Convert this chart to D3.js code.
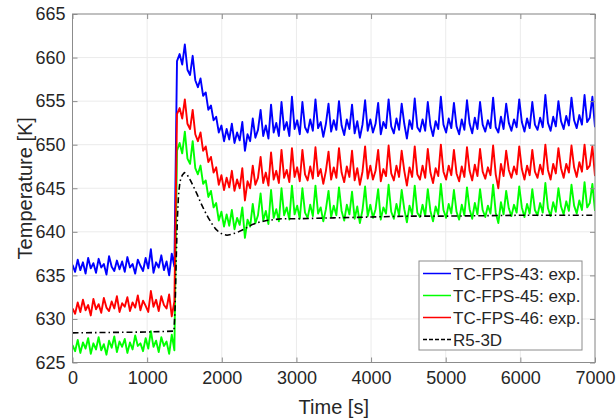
<!DOCTYPE html>
<html>
<head>
<meta charset="utf-8">
<script src="https://cdn.jsdelivr.net/npm/d3@7"></script>
<style>
body { margin: 0; background: #fff; }
text { font-family: "Liberation Sans", Arial, sans-serif; fill: #262626; }
</style>
</head>
<body>
<svg id="mainSvgArea" width="616" height="419"></svg>
<script>
// measured thermocouples, one sample every 35 s
var expTime = d3.range(0, 7001, 35);

var tc43 = [
    636.2, 635.4, 636.8, 635.6, 636.5, 635.2, 637.0, 635.8, 636.4, 635.3, 636.9, 635.9, 636.3, 635.1, 637.2, 636.0, 635.5, 636.7, 635.7, 636.6,
    635.4, 637.1, 635.9, 636.3, 635.2, 636.8, 636.1, 635.5, 637.0, 635.8, 638.0, 635.3, 636.5, 635.9, 637.3, 635.6, 636.6, 635.0, 637.5, 636.0,
    659.6, 660.4, 659.2, 661.5, 658.6, 658.0, 660.2, 657.4, 656.6, 657.6, 655.6, 656.0, 654.0, 654.5, 652.8, 653.2, 651.4, 652.2, 650.4, 651.8,
    650.6, 652.4, 650.2, 651.4, 650.5, 652.6, 649.3, 651.2, 650.4, 653.0, 650.8, 651.7, 654.0, 651.0, 652.2, 650.7, 654.6, 651.4, 652.5, 651.0,
    654.9, 651.7, 652.6, 651.0, 655.5,
    651.8, 652.8, 651.2, 654.9, 652.0, 651.4, 652.9, 651.6, 655.2, 651.9, 652.6, 650.9, 652.4, 654.7, 651.5, 652.8,
    651.7, 655.0, 652.2, 651.1, 652.9, 651.8, 654.6, 651.3, 652.7, 650.8, 652.3, 655.1, 651.6, 652.9, 651.4, 652.4,
    654.8, 651.2, 652.6, 651.9, 655.2, 652.1, 651.3, 653.0, 651.7, 654.7, 652.4, 650.7, 652.8, 651.8, 655.3, 652.0,
    651.5, 652.9, 651.6, 654.9, 652.2, 651.0, 652.7, 651.8, 655.5, 652.3, 651.4, 653.0, 651.9, 654.8, 652.1, 651.2,
    652.9, 651.7, 655.1, 652.4, 651.3, 653.1, 651.8, 654.9, 652.3, 651.5, 652.8, 651.9, 655.4, 652.0, 651.4, 653.2,
    651.8, 654.7, 652.5, 651.6, 652.9, 652.0, 655.2, 652.6, 651.5, 653.0, 651.9, 654.9, 652.3, 651.7, 653.1, 652.0,
    655.7, 652.5, 651.6, 653.2, 652.1, 655.0, 652.7, 651.8, 653.3, 652.2, 655.4, 652.8, 651.9, 653.4, 652.3, 655.7,
    652.6, 653.1, 655.5, 652.0
];

var tc45 = [
    627.0, 626.3, 627.6, 626.1, 627.3, 626.6, 627.8, 626.0, 627.2, 626.5, 627.9, 626.4, 627.1, 625.9, 627.5, 626.7, 628.0, 626.2, 627.4, 626.8,
    627.7, 626.1, 627.3, 626.5, 628.1, 626.9, 627.2, 626.3, 627.8, 626.6, 628.6, 626.8, 627.5, 626.2, 627.9, 626.9, 627.4, 626.0, 628.2, 626.4,
    649.3, 650.2, 649.0, 651.5, 648.4, 647.8, 650.4, 647.3, 646.6, 647.6, 645.5, 645.9, 644.0, 644.7, 642.8, 643.3, 641.3, 642.3, 640.6, 642.0,
    640.7, 642.5, 640.3, 641.6, 640.8, 642.8, 639.3, 641.4, 640.6, 643.2, 641.0, 641.9, 644.4, 641.3, 642.4, 640.9, 644.8, 641.6, 642.6, 641.2,
    645.0, 641.9, 642.8, 641.4, 645.3,
    642.0, 643.0, 641.5, 645.0, 642.2, 641.6, 643.1, 641.8, 645.3, 642.1, 642.8, 641.2, 642.6, 644.7, 641.7, 643.0,
    641.9, 645.1, 642.4, 641.3, 643.1, 642.0, 644.6, 641.5, 642.9, 641.0, 642.5, 645.2, 641.8, 643.1, 641.6, 642.6,
    644.9, 641.4, 642.8, 642.1, 645.4, 642.3, 641.5, 643.2, 641.9, 644.8, 642.6, 641.1, 643.0, 642.0, 645.3, 642.2,
    641.7, 643.1, 641.8, 644.9, 642.4, 641.2, 642.9, 642.0, 645.5, 642.5, 641.6, 643.2, 642.1, 644.8, 642.3, 641.4,
    643.1, 641.9, 645.1, 642.6, 641.5, 643.3, 642.0, 644.9, 642.5, 641.7, 643.0, 642.1, 645.4, 642.2, 641.0, 643.4,
    642.0, 644.7, 642.7, 641.8, 643.1, 642.2, 645.2, 642.8, 641.7, 643.2, 642.1, 644.9, 642.5, 641.9, 643.3, 642.2,
    645.6, 642.7, 641.8, 643.4, 642.3, 645.0, 642.9, 642.0, 643.5, 642.4, 645.4, 643.0, 642.1, 643.6, 642.5, 645.7,
    642.8, 643.3, 645.5, 642.4
];

var tc46 = [
    631.2, 630.6, 631.9, 630.8, 632.2, 631.0, 631.6, 630.4, 632.3, 631.1, 631.7, 630.7, 632.4, 631.3, 630.9, 632.0, 631.2, 632.6, 630.8, 631.8,
    631.4, 632.5, 630.9, 631.9, 631.3, 632.7, 631.0, 632.1, 631.5, 630.8, 633.2, 631.4, 632.2, 630.9, 632.6, 631.6, 631.2, 632.8, 630.3, 632.0,
    653.5, 654.2, 653.0, 655.2, 652.4, 651.8, 654.0, 651.2, 650.4, 651.4, 649.3, 649.8, 648.0, 648.6, 646.8, 647.4, 645.4, 646.5, 644.8, 646.2,
    645.1, 647.0, 644.7, 646.0, 645.0, 647.3, 643.6, 645.8, 645.0, 647.6, 645.4, 646.2, 648.6, 645.6, 646.8, 645.3, 649.1, 646.0, 647.0, 645.6,
    649.4, 646.2, 647.1, 645.7, 649.6,
    646.3, 647.4, 645.8, 649.4, 646.6, 645.9, 647.5, 646.1, 649.7, 646.4, 647.2, 645.5, 647.0, 649.2, 646.0, 647.4,
    646.2, 649.6, 646.8, 645.7, 647.5, 646.3, 649.3, 645.9, 647.3, 645.4, 646.9, 649.8, 646.1, 647.6, 646.0, 647.0,
    649.4, 645.8, 647.2, 646.4, 649.9, 646.7, 645.9, 647.6, 646.3, 649.3, 647.0, 645.3, 647.4, 646.3, 649.8, 646.6,
    646.0, 647.6, 646.2, 649.5, 646.8, 645.6, 647.3, 646.4, 650.0, 646.9, 646.0, 647.6, 646.5, 649.4, 646.7, 645.8,
    647.5, 646.3, 649.7, 647.0, 645.9, 647.7, 646.4, 649.5, 646.9, 646.1, 647.4, 646.5, 649.9, 646.6, 645.0, 647.8,
    646.4, 649.3, 647.1, 646.2, 647.5, 646.6, 649.8, 647.2, 646.0, 647.6, 646.5, 649.4, 646.9, 646.2, 647.7, 646.6,
    650.0, 647.1, 646.0, 647.8, 646.7, 649.6, 647.3, 646.2, 647.8, 646.8, 649.9, 647.4, 646.3, 648.0, 646.9, 650.0,
    647.2, 647.6, 649.8, 646.4
];

// RELAP5-3D calculation
var r5Time = [0, 500, 1000, 1360, 1375, 1390, 1405, 1420, 1440, 1470, 1500, 1540, 1580, 1620, 1670, 1720, 1770, 1820, 1870,
    1920, 1970, 2020, 2070, 2120, 2200, 2300, 2400, 2500, 2600, 2800, 3000, 3500, 4000, 4500, 5000, 6000, 7000];
var r5Temp = [628.4, 628.45, 628.5, 628.6, 631.5, 637.0, 641.5, 644.2, 645.8, 646.5, 646.8, 646.5, 645.9, 645.2, 644.3, 643.3,
    642.4, 641.6, 640.9, 640.3, 639.9, 639.7, 639.6, 639.7, 639.9, 640.3, 640.8, 641.1, 641.3, 641.5, 641.5, 641.6, 641.7,
    641.8, 641.8, 641.9, 641.9];

var xTicks = [0, 1000, 2000, 3000, 4000, 5000, 6000, 7000];
var yTicks = [625, 630, 635, 640, 645, 650, 655, 660, 665];
var seriesNames = ["TC-FPS-43: exp.", "TC-FPS-45: exp.", "TC-FPS-46: exp.", "R5-3D"];

var plot = {left: 72.5, right: 595, top: 14, bottom: 362.5};

var svg = d3.select("#mainSvgArea");
var x = d3.scaleLinear().domain([0, 7000]).range([plot.left, plot.right]);
var y = d3.scaleLinear().domain([625, 665]).range([plot.bottom, plot.top]);

var series = [
    {name: seriesNames[0], time: expTime, values: tc43, color: "#0000ff", dash: null},
    {name: seriesNames[1], time: expTime, values: tc45, color: "#00ff00", dash: null},
    {name: seriesNames[2], time: expTime, values: tc46, color: "#ff0000", dash: null},
    {name: seriesNames[3], time: r5Time, values: r5Temp, color: "#000000", dash: "6,3,1.5,3"}
];

drawGrid();
drawSeries();
drawAxes();
drawLegend();

function drawGrid() {
    svg.append("g").selectAll("line").data(xTicks).enter().append("line")
        .attr("x1", function(d) {return x(d);})
        .attr("x2", function(d) {return x(d);})
        .attr("y1", plot.top)
        .attr("y2", plot.bottom)
        .attr("stroke", "#ebebeb");
    svg.append("g").selectAll("line").data(yTicks).enter().append("line")
        .attr("x1", plot.left)
        .attr("x2", plot.right)
        .attr("y1", function(d) {return y(d);})
        .attr("y2", function(d) {return y(d);})
        .attr("stroke", "#ebebeb");
}

function drawSeries() {
    svg.append("clipPath").attr("id", "plotClip").append("rect")
        .attr("x", plot.left).attr("y", plot.top)
        .attr("width", plot.right - plot.left).attr("height", plot.bottom - plot.top);

    var g = svg.append("g").attr("clip-path", "url(#plotClip)");
    series.forEach(function(s) {
        var line = d3.line()
            .x(function(d, i) {return x(s.time[i]);})
            .y(function(d) {return y(d);});
        g.append("path")
            .attr("d", line(s.values))
            .attr("fill", "none")
            .attr("stroke", s.color)
            .attr("stroke-width", s.dash ? 1.6 : 1.9)
            .attr("stroke-linejoin", "round")
            .attr("stroke-dasharray", s.dash);
    });
}

function drawAxes() {
    var tickCol = "#8c8c8c";
    var fmt = d3.format("d");
    var bottom = svg.append("g")
        .attr("transform", "translate(0," + plot.bottom + ")")
        .call(d3.axisBottom(x).tickValues(xTicks).tickSize(-5).tickPadding(9).tickFormat(fmt));
    var left = svg.append("g")
        .attr("transform", "translate(" + plot.left + ",0)")
        .call(d3.axisLeft(y).tickValues(yTicks).tickSize(-5).tickPadding(7).tickFormat(fmt));
    var top = svg.append("g")
        .attr("transform", "translate(0," + plot.top + ")")
        .call(d3.axisTop(x).tickValues(xTicks).tickSize(-5).tickFormat(""));
    var right = svg.append("g")
        .attr("transform", "translate(" + plot.right + ",0)")
        .call(d3.axisRight(y).tickValues(yTicks).tickSize(-5).tickFormat(""));

    [bottom, left, top, right].forEach(function(a) {
        a.select(".domain").remove();
        a.selectAll("line").attr("stroke", tickCol);
        a.selectAll("text")
            .style("font-family", "'Liberation Sans', Arial, sans-serif")
            .style("font-size", "18px")
            .attr("fill", "#262626");
    });

    svg.append("rect")
        .attr("x", plot.left).attr("y", plot.top)
        .attr("width", plot.right - plot.left).attr("height", plot.bottom - plot.top)
        .attr("fill", "none")
        .attr("stroke", tickCol);

    svg.append("text")
        .attr("x", (plot.left + plot.right) / 2)
        .attr("y", 414)
        .attr("text-anchor", "middle")
        .style("font-size", "20px")
        .text("Time [s]");

    svg.append("text")
        .attr("transform", "translate(32," + (plot.top + plot.bottom) / 2 + ") rotate(-90)")
        .attr("text-anchor", "middle")
        .style("font-size", "20px")
        .text("Temperature [K]");
}

function drawLegend() {
    var box = {x: 419, y: 261, w: 163, h: 89};
    var legend = svg.append("g");
    legend.append("rect")
        .attr("x", box.x).attr("y", box.y)
        .attr("width", box.w).attr("height", box.h)
        .attr("fill", "#fff")
        .attr("stroke", "#8c8c8c");

    var rows = legend.selectAll("g").data(series).enter().append("g")
        .attr("transform", function(d, i) {return "translate(" + box.x + "," + (box.y + 12.5 + i * 22) + ")";});
    rows.append("line")
        .attr("x1", 4).attr("x2", 32)
        .attr("stroke", function(d) {return d.color;})
        .attr("stroke-width", 1.5)
        .attr("stroke-dasharray", function(d) {return d.dash ? "4,2,4,2" : null;});
    rows.append("text")
        .attr("x", 34)
        .attr("dy", "0.36em")
        .style("font-size", "17px")
        .text(function(d) {return d.name;});
}
</script>
</body>
</html>
